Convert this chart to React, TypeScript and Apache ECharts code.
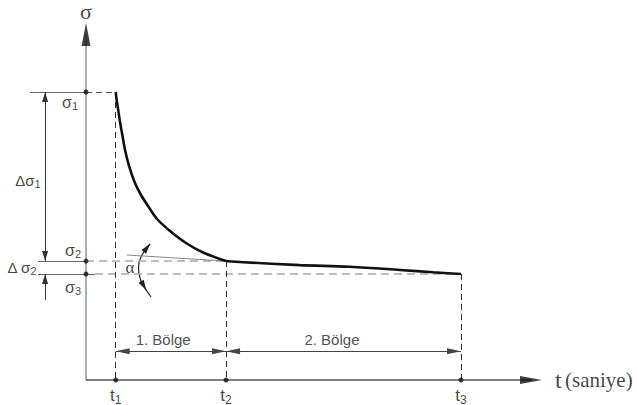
import React, { useEffect, useRef } from "react";
import * as echarts from "echarts";

// ---------------- data ----------------
const sigmaLevels = [100, 41.3, 36.8]; // σ1, σ2, σ3
const sigmaIdx = ["1", "2", "3"];
const timeMarks = [1, 4.72, 12.64]; // t1, t2, t3
const timeIdx = ["1", "2", "3"];
const tMin = -2.9;
const tMax = 15;
const sMax = 120;
// stress-relaxation curve, region 1 (fast drop) and region 2 (slow drop)
const region1T = [1.0, 1.032, 1.085, 1.146, 1.224, 1.315, 1.45, 1.635, 1.854, 2.09, 2.394, 2.832, 3.371, 3.944, 4.72];
const region1S = [100, 97.22, 93.75, 89.58, 85.07, 79.86, 74.31, 68.75, 64.24, 60.42, 55.9, 51.74, 47.57, 44.27, 41.3];
const region2T = [4.72, 5.3, 7.21, 8.9, 10.59, 11.7, 12.64];
const region2S = [41.3, 40.9, 39.9, 39.3, 38.2, 37.4, 36.8];
const regionNames = ["1. Bölge", "2. Bölge"];
const tangentFrom = [1.38, 43.4]; // start of the tangent line that ends at (t2, σ2)
// α angle arc
const arcT = [2.157, 1.888, 1.77, 1.82, 1.989, 2.191];
const arcS = [47.22, 43.4, 39.24, 35.42, 31.94, 28.82];

// ---------------- annotation anchors (data coordinates) ----------------
const dimX = -1.38; // vertical Δσ dimension line
const dimBottom = 27.8;
const regionDimY = 10; // horizontal region dimension line
const regionLabelT = [2.6, 8.29];
const regionLabelS = 14.2;
const stubLeftS1 = -1.89;
const stubLeftS23 = -1.62;
const stubRightS3 = 0.3;
const arcHeadTop = [[2.022, 45.49], [2.157, 47.22]];
const arcHeadBottom = [[1.854, 34.38], [2.023, 31.25]];

const SANS = "Liberation Sans, Arial, sans-serif";
const SERIF = "Liberation Serif, Times New Roman, serif";

const subRich = (size: number, sub: number, pad: number, family = SANS) => ({
  m: { fontFamily: family, fontSize: size, color: "#111" },
  s: { fontFamily: family, fontSize: sub, color: "#111", padding: [pad, 0, 0, 0] },
});

const arrowHead = { symbol: "triangle", size: [6, 14], offset: [0, 7] };
const smallHead = { symbol: "triangle", size: [6, 10], offset: [0, 5] };

function seg(a: number[], b: number[], lineStyle: any, o: any = {}) {
  const from: any = { coord: a, lineStyle, label: { show: false }, symbol: "none" };
  const to: any = { coord: b, symbol: "none" };
  if (o.from) {
    from.symbol = o.from.symbol;
    from.symbolSize = o.from.size;
    from.symbolOffset = o.from.offset;
  }
  if (o.to) {
    to.symbol = o.to.symbol;
    to.symbolSize = o.to.size;
    to.symbolOffset = o.to.offset;
  }
  return [from, to];
}

export default function App() {
  const ref = useRef<HTMLDivElement>(null);
  useEffect(() => {
    const el = ref.current!;
    const chart = echarts.init(el, null, { renderer: "svg" });

    const dashDark = { color: "#333", width: 1, type: [6, 4] };
    const dashGray = { color: "#a8a8a8", width: 1.6, type: [8, 5] };
    const solidGray = { color: "#666", width: 1, type: "solid" };
    const dimStyle = { color: "#333", width: 1, type: "solid" };
    const arcStyle = { color: "#222", width: 1.2, type: "solid" };

    const markData: any[] = [
      // left stubs
      seg([stubLeftS1, sigmaLevels[0]], [0, sigmaLevels[0]], solidGray),
      seg([stubLeftS23, sigmaLevels[1]], [0, sigmaLevels[1]], solidGray),
      seg([stubLeftS23, sigmaLevels[2]], [stubRightS3, sigmaLevels[2]], solidGray),
      // horizontal dashed guides
      seg([0, sigmaLevels[0]], [timeMarks[0], sigmaLevels[0]], { ...dashDark, color: "#555" }),
      seg([0, sigmaLevels[1]], [timeMarks[1], sigmaLevels[1]], dashGray),
      seg([stubRightS3, sigmaLevels[2]], [timeMarks[2], sigmaLevels[2]], dashGray),
      // vertical dashed guides
      ...timeMarks.map((t, i) => seg([t, sigmaLevels[i]], [t, 0], dashDark)),
      // tangent line
      seg(tangentFrom, [timeMarks[1], sigmaLevels[1]], { color: "#888", width: 1, type: "solid" }),
      // α arc arrow heads
      seg(arcHeadTop[0], arcHeadTop[1], arcStyle, { to: smallHead }),
      seg(arcHeadBottom[0], arcHeadBottom[1], arcStyle, { to: smallHead }),
      // Δσ dimension line
      seg([dimX, sigmaLevels[1]], [dimX, sigmaLevels[0]], dimStyle, { from: smallHead, to: smallHead }),
      seg([dimX, sigmaLevels[2]], [dimX, dimBottom], dimStyle, { from: smallHead }),
      // region dimension lines
      ...[0, 1].map((i) =>
        seg([timeMarks[i], regionDimY], [timeMarks[i + 1], regionDimY], { color: "#444", width: 1.2, type: "solid" }, {
          from: arrowHead,
          to: arrowHead,
        })
      ),
    ];

    const option: any = {
      animation: false,
      backgroundColor: "#fff",
      grid: { left: 0, right: 106, top: 34.4, bottom: 25, containLabel: false },
      xAxis: { type: "value", min: tMin, max: tMax, show: false },
      yAxis: { type: "value", min: 0, max: sMax, show: false },
      series: [
        {
          name: "y-axis",
          type: "line",
          data: [[0, 0], [0, sMax]],
          symbol: "none",
          silent: true,
          clip: false,
          lineStyle: { color: "#9a9a9a", width: 1.6 },
          z: 1,
        },
        {
          name: "x-axis",
          type: "line",
          data: [[0, 0], [tMax, 0]],
          symbol: "none",
          silent: true,
          clip: false,
          lineStyle: { color: "#555", width: 1.4 },
          z: 1,
        },
        {
          name: "guides",
          type: "line",
          data: [],
          silent: true,
          markLine: {
            silent: true,
            animation: false,
            symbol: ["none", "none"],
            label: { show: false },
            emphasis: { disabled: true },
            lineStyle: { type: "solid" },
            data: markData,
          },
          z: 2,
        },
        {
          name: "alpha arc",
          type: "line",
          data: arcT.map((t, i) => [t, arcS[i]]),
          smooth: 0.5,
          symbol: "none",
          silent: true,
          lineStyle: arcStyle,
          z: 3,
        },
        {
          name: "region1",
          type: "line",
          data: region1T.map((t, i) => [t, region1S[i]]),
          smooth: 0.3,
          symbol: "none",
          silent: true,
          lineStyle: { color: "#111", width: 2.6 },
          z: 5,
        },
        {
          name: "region2",
          type: "line",
          data: region2T.map((t, i) => [t, region2S[i]]),
          smooth: 0.35,
          symbol: "none",
          silent: true,
          lineStyle: { color: "#111", width: 2.6 },
          z: 5,
        },
        {
          name: "axis arrows",
          type: "scatter",
          silent: true,
          clip: false,
          symbol: "triangle",
          itemStyle: { color: "#111" },
          data: [
            { value: [0, sMax], symbolSize: [9, 23], symbolRotate: 0 },
            { value: [tMax, 0], symbolSize: [8, 22], symbolRotate: -90 },
          ],
          z: 6,
        },
        {
          name: "sigma points",
          type: "scatter",
          silent: true,
          clip: false,
          symbolSize: 5,
          itemStyle: { color: "#111" },
          data: sigmaLevels.map((s, i) => ({
            value: [0, s],
            label: {
              show: true,
              position: "inside",
              offset: [[-16, 10], [-13, -11], [-13, 13]][i],
              formatter: `{m|σ}{s|${sigmaIdx[i]}}`,
              rich: subRich(16, 11, 7),
            },
          })),
          z: 7,
        },
        {
          name: "time points",
          type: "scatter",
          silent: true,
          clip: false,
          symbolSize: 5,
          itemStyle: { color: "#111" },
          data: timeMarks.map((t, i) => ({
            value: [t, 0],
            label: {
              show: true,
              position: "bottom",
              distance: 3,
              formatter: `{m|t}{s|${timeIdx[i]}}`,
              rich: subRich(17, 12, 8),
            },
          })),
          z: 7,
        },
        {
          name: "region labels",
          type: "scatter",
          silent: true,
          clip: false,
          symbolSize: 0,
          itemStyle: { color: "transparent" },
          data: regionNames.map((n, i) => ({
            value: [regionLabelT[i], regionLabelS],
            label: { show: true, position: "inside", formatter: n, fontFamily: SANS, fontSize: 15, color: "#222" },
          })),
          z: 8,
        },
        {
          name: "annotations",
          type: "scatter",
          silent: true,
          clip: false,
          symbolSize: 0,
          itemStyle: { color: "transparent" },
          data: [
            {
              value: [0, 128.1],
              label: {
                show: true,
                position: "inside",
                formatter: "σ",
                fontFamily: SERIF,
                fontSize: 22,
                lineHeight: 16,
                color: "#111",
              },
            },
            {
              value: [15.81, 0],
              label: {
                show: true,
                position: "right",
                distance: 0,
                formatter: "{a|t} {b|(saniye)}",
                rich: {
                  a: { fontFamily: SERIF, fontSize: 24, color: "#111" },
                  b: { fontFamily: SERIF, fontSize: 21, color: "#111" },
                },
              },
            },
            {
              value: [-1.96, 69.1],
              label: { show: true, position: "inside", formatter: "{m|Δσ}{s|1}", rich: subRich(15, 11, 7) },
            },
            {
              value: [-2.16, 38.9],
              label: { show: true, position: "inside", formatter: "{m|Δ σ}{s|2}", rich: subRich(15, 11, 7) },
            },
            {
              value: [1.48, 38.9],
              label: { show: true, position: "inside", formatter: "α", fontFamily: SERIF, fontSize: 17, color: "#111" },
            },
          ],
          z: 8,
        },
      ],
    };
    chart.setOption(option);
    return () => chart.dispose();
  }, []);
  return (
    <div
      ref={ref}
      style={{ position: "fixed", left: 0, top: 0, width: 637, height: 405, background: "#fff" }}
    />
  );
}
